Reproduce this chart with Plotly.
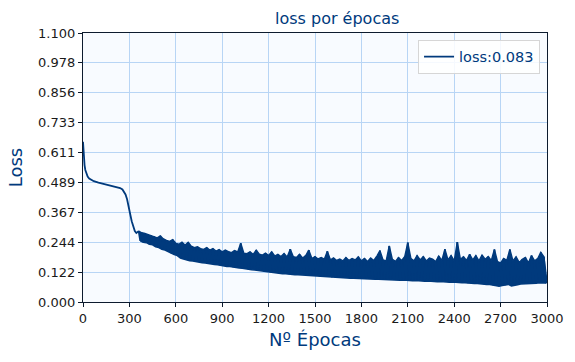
import plotly.graph_objects as go

# ---- data ----
early_epochs = [0, 3, 6, 10, 15, 20, 30, 40, 55, 70, 100, 130, 160, 190, 220,
                240, 255, 265, 275, 285, 295, 305, 315, 325, 335, 345, 352]
early_loss = [0.655, 0.62, 0.585, 0.56, 0.54, 0.527, 0.513, 0.505, 0.498, 0.494,
              0.488, 0.483, 0.479, 0.475, 0.470, 0.466, 0.460, 0.452, 0.440,
              0.420, 0.395, 0.360, 0.330, 0.305, 0.290, 0.282, 0.285]

# upper edge of the noisy band, epochs 360, 380, ..., 2980
band_upper = [
    0.290, 0.283, 0.280, 0.276, 0.272,
    0.268, 0.262, 0.270, 0.258, 0.252,
    0.248, 0.255, 0.240, 0.236, 0.245,
    0.232, 0.244, 0.228, 0.222, 0.226,
    0.218, 0.215, 0.222, 0.212, 0.218,
    0.208, 0.214, 0.205, 0.212, 0.206,
    0.202, 0.210, 0.205, 0.240, 0.200,
    0.198, 0.205, 0.195, 0.212, 0.196,
    0.192, 0.200, 0.190, 0.205, 0.188,
    0.195, 0.186, 0.198, 0.184, 0.216,
    0.185, 0.182, 0.195, 0.180, 0.190,
    0.212, 0.178, 0.186, 0.176, 0.182,
    0.175, 0.207, 0.172, 0.180, 0.170,
    0.176, 0.168, 0.182, 0.170, 0.178,
    0.172, 0.185, 0.168, 0.178, 0.166,
    0.180, 0.170, 0.188, 0.210, 0.172,
    0.168, 0.229, 0.175, 0.166, 0.182,
    0.170, 0.185, 0.243, 0.178, 0.168,
    0.190, 0.172, 0.186, 0.168, 0.180,
    0.175, 0.165, 0.188, 0.170, 0.216,
    0.172, 0.190, 0.168, 0.245, 0.175,
    0.185, 0.170, 0.195, 0.172, 0.190,
    0.168, 0.192, 0.175, 0.186, 0.170,
    0.215, 0.165, 0.160, 0.178, 0.170,
    0.215, 0.168, 0.185, 0.162, 0.175,
    0.182, 0.160, 0.190, 0.168, 0.178,
    0.203, 0.185,
]

# lower edge of the noisy band, epochs 370, 390, ..., 2990
band_lower = [
    0.250, 0.244, 0.243, 0.236, 0.234,
    0.226, 0.223, 0.216, 0.213, 0.206,
    0.200, 0.194, 0.190, 0.180, 0.176,
    0.172, 0.169, 0.168, 0.165, 0.164,
    0.161, 0.160, 0.157, 0.157, 0.154,
    0.152, 0.149, 0.148, 0.145, 0.145,
    0.142, 0.142, 0.139, 0.138, 0.135,
    0.134, 0.132, 0.131, 0.129, 0.128,
    0.125, 0.124, 0.122, 0.122, 0.119,
    0.118, 0.116, 0.116, 0.114, 0.114,
    0.112, 0.112, 0.111, 0.111, 0.109,
    0.110, 0.108, 0.108, 0.105, 0.105,
    0.103, 0.103, 0.101, 0.101, 0.099,
    0.100, 0.098, 0.098, 0.097, 0.097,
    0.096, 0.096, 0.095, 0.095, 0.094,
    0.094, 0.093, 0.093, 0.092, 0.092,
    0.091, 0.091, 0.090, 0.090, 0.089,
    0.090, 0.088, 0.089, 0.087, 0.088,
    0.086, 0.087, 0.085, 0.086, 0.084,
    0.085, 0.083, 0.084, 0.082, 0.083,
    0.081, 0.082, 0.080, 0.080, 0.079,
    0.079, 0.077, 0.078, 0.076, 0.076,
    0.074, 0.074, 0.072, 0.072, 0.069,
    0.068, 0.065, 0.068, 0.069, 0.072,
    0.066, 0.070, 0.071, 0.074, 0.074,
    0.074, 0.075, 0.077, 0.077, 0.079,
    0.079, 0.078,
]
final_epoch = 3000
final_loss = 0.083

x_ticks = [0, 300, 600, 900, 1200, 1500, 1800, 2100, 2400, 2700, 3000]
y_ticks = [0.000, 0.122, 0.244, 0.367, 0.489, 0.611, 0.733, 0.856, 0.978, 1.100]
y_tick_labels = ["0.000", "0.122", "0.244", "0.367", "0.489", "0.611",
                 "0.733", "0.856", "0.978", "1.100"]

# ---- assemble the series (upper / lower readings interleaved in epoch order) ----
upper_epochs = list(range(360, 3000, 20))
lower_epochs = list(range(370, 3000, 20))
assert len(upper_epochs) == len(band_upper)
assert len(lower_epochs) == len(band_lower)

xs = list(early_epochs)
ys = list(early_loss)
for eu, vu, el, vl in zip(upper_epochs, band_upper, lower_epochs, band_lower):
    xs += [eu, el]
    ys += [vu, vl]
xs.append(final_epoch)
ys.append(final_loss)

LINE = "#003a7d"
FONT = "DejaVu Sans"

fig = go.Figure()
# solid body of the noisy band: lower edge, then upper edge filled to it
fig.add_trace(go.Scatter(
    x=lower_epochs + [final_epoch], y=band_lower + [final_loss], mode="lines",
    line=dict(color=LINE, width=1.6), showlegend=False, hoverinfo="skip",
))
fig.add_trace(go.Scatter(
    x=upper_epochs + [final_epoch], y=band_upper + [final_loss], mode="lines",
    line=dict(color=LINE, width=1.4), fill="tonexty", fillcolor=LINE,
    showlegend=False, hoverinfo="skip",
))
fig.add_trace(go.Scatter(
    x=xs, y=ys, mode="lines", name=f"loss:{final_loss:.3f}",
    line=dict(color=LINE, width=1.8),
))

fig.update_layout(
    width=575, height=362,
    margin=dict(l=83, r=28, t=33, b=60),
    paper_bgcolor="white",
    plot_bgcolor="#f8fbff",
    font=dict(family=FONT, size=13, color="#1a1a1a"),
    title=dict(text="loss por épocas", x=315 / 575, xanchor="center",
               xref="paper", y=1 - 18 / 362, yref="container", yanchor="middle",
               font=dict(family=FONT, size=16, color=LINE)),
    showlegend=True,
    legend=dict(x=0.985, y=0.975, xanchor="right", yanchor="top",
                bgcolor="rgba(255,255,255,0.85)", bordercolor="#d6d6d6",
                borderwidth=1, font=dict(family=FONT, size=14.5, color=LINE),
                itemwidth=30),
)

fig.update_xaxes(
    range=[0, 3000], tickvals=x_ticks, ticktext=[str(t) for t in x_ticks],
    showgrid=True, gridcolor="#b8d5f5", gridwidth=1,
    showline=True, linecolor="#0d1b2e", linewidth=1.2, mirror=True,
    ticks="outside", ticklen=4, tickcolor="#0d1b2e",
    zeroline=False,
    title=dict(text="Nº Épocas", font=dict(family=FONT, size=18, color=LINE),
               standoff=8),
)
fig.update_yaxes(
    range=[0, 1.1], tickvals=y_ticks, ticktext=y_tick_labels,
    showgrid=True, gridcolor="#b8d5f5", gridwidth=1,
    showline=True, linecolor="#0d1b2e", linewidth=1.2, mirror=True,
    ticks="outside", ticklen=4, tickcolor="#0d1b2e",
    zeroline=False,
    title=dict(text="Loss", font=dict(family=FONT, size=18, color=LINE),
               standoff=10),
)

fig.write_html("out.html", config={"displayModeBar": False},
               post_script="document.body.style.margin='0';")
